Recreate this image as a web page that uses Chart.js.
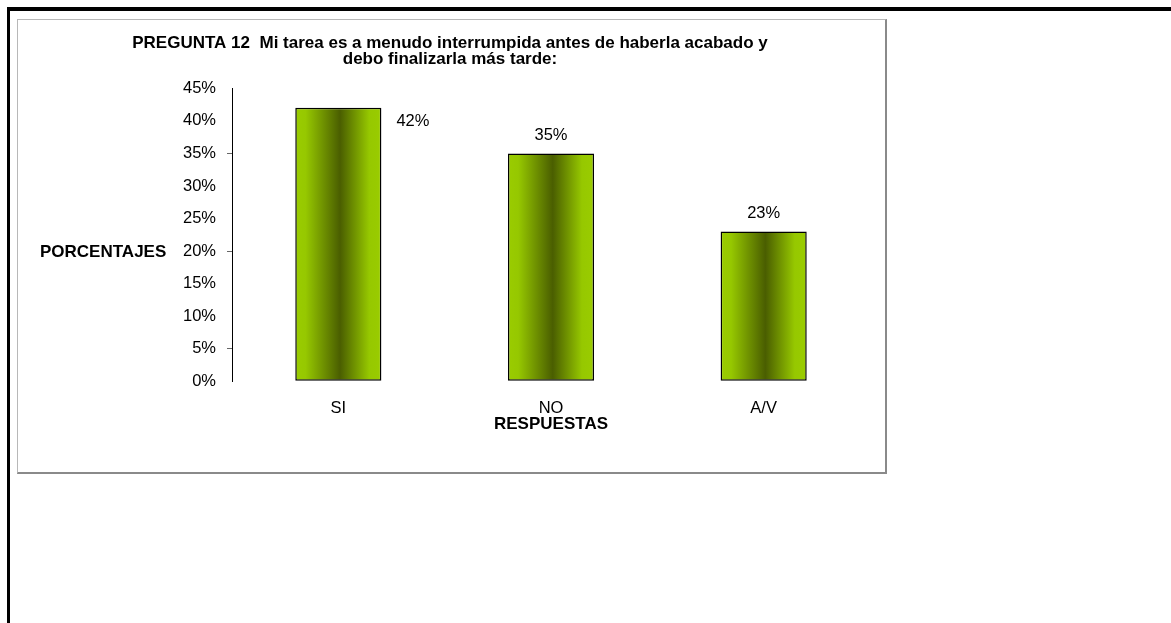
<!DOCTYPE html>
<html lang="es">
<head>
<meta charset="utf-8">
<title>Pregunta 12</title>
<script src="https://cdn.jsdelivr.net/npm/chart.js@4.4.1/dist/chart.umd.min.js"></script>
<style>
  html, body { margin: 0; padding: 0; background: #fff; }
  body { width: 1171px; height: 623px; position: relative; overflow: hidden; }
  .page { position: absolute; left: 7px; top: 7px; right: 0; bottom: 0; border-top: 4px solid #000; border-left: 3px solid #000; }
  .box { position: absolute; left: 17px; top: 19px; width: 867px; height: 452px; background: #fff;
         border-top: 1px solid #b8b8b8; border-left: 1px solid #b8b8b8; border-right: 2px solid #8a8a8a; border-bottom: 2px solid #8a8a8a; }
  .box canvas { position: absolute; left: 0; top: 0; }
</style>
</head>
<body>
<div class="page"></div>
<div class="box"><canvas id="chartPregunta12" width="867" height="452"></canvas></div>

<script>
'use strict';

// ====== DATA ======
const categories = ['SI', 'NO', 'A/V'];
const percentages = [42, 35, 23];
const yTicks = [0, 5, 10, 15, 20, 25, 30, 35, 40, 45];
const titleLines = ['PREGUNTA 12  Mi tarea es a menudo interrumpida antes de haberla acabado y', 'debo finalizarla más tarde:'];
const yAxisLabel = 'PORCENTAJES';
const xAxisLabel = 'RESPUESTAS';

const FONT = '"Liberation Sans", Arial, sans-serif';
const TEXT_SIZE = 16.5;
const BOLD_SIZE = 17;
const BAR_PCT = 0.405;

// ====== BAR FILL ======
// horizontal shading: bright green edges, dark olive core
function barGradient(ctx) {
    const chart = ctx.chart;
    const xScale = chart.scales.x;
    if (!xScale || !chart.chartArea) return '#8fbf00';
    const center = xScale.getPixelForValue(ctx.dataIndex);
    const half = (xScale.width / categories.length) * BAR_PCT / 2;
    const g = chart.ctx.createLinearGradient(center - half, 0, center + half, 0);
    g.addColorStop(0, '#9acc00');
    g.addColorStop(0.12, '#96c800');
    g.addColorStop(0.52, '#4a5e00');
    g.addColorStop(0.86, '#96c800');
    g.addColorStop(1, '#9acc00');
    return g;
}

// ====== LABELS PLUGIN ======
// value labels over the bars + horizontal y-axis caption
const labelPlugin = {
    id: 'labelPlugin',
    afterDatasetsDraw(chart) {
        const { ctx, chartArea } = chart;
        const meta = chart.getDatasetMeta(0);
        ctx.save();
        ctx.fillStyle = '#000';
        ctx.font = TEXT_SIZE + 'px ' + FONT;
        ctx.textBaseline = 'middle';
        meta.data.forEach((bar, i) => {
            const text = percentages[i] + '%';
            const half = bar.width / 2;
            if (bar.y - chartArea.top < 30) {
                // not enough room above: place at the right of the bar
                ctx.textAlign = 'left';
                ctx.fillText(text, bar.x + half + 15, bar.y + 14);
            } else {
                ctx.textAlign = 'center';
                ctx.fillText(text, bar.x, bar.y - 18);
            }
        });

        const yScale = chart.scales.y;
        ctx.font = 'bold ' + BOLD_SIZE + 'px ' + FONT;
        ctx.textAlign = 'left';
        ctx.fillText(yAxisLabel, 22, yScale.getPixelForValue(20) + 1);
        ctx.restore();
    }
};

// ====== CHART ======
new Chart(document.getElementById('chartPregunta12'), {
    type: 'bar',
    data: {
        labels: categories,
        datasets: [{
            data: percentages,
            backgroundColor: barGradient,
            borderColor: '#000',
            borderWidth: 1.5,
            borderSkipped: false,
            categoryPercentage: 1,
            barPercentage: BAR_PCT
        }]
    },
    options: {
        responsive: false,
        animation: false,
        layout: { padding: { left: 12, right: 15, top: 0, bottom: 40 } },
        plugins: {
            legend: { display: false },
            tooltip: { enabled: false },
            title: {
                display: true,
                text: titleLines,
                color: '#000',
                font: { family: FONT, size: BOLD_SIZE, weight: 'bold', lineHeight: 0.95 },
                padding: { top: 15, bottom: 21 }
            }
        },
        scales: {
            x: {
                grid: { display: false, drawTicks: false },
                border: { display: false },
                ticks: { color: '#000', font: { family: FONT, size: TEXT_SIZE, lineHeight: 1 }, padding: 19 },
                title: {
                    display: true,
                    text: xAxisLabel,
                    color: '#000',
                    font: { family: FONT, size: BOLD_SIZE, weight: 'bold', lineHeight: 0.95 },
                    padding: { top: -20, bottom: 0 }
                }
            },
            y: {
                min: 0,
                max: 45,
                afterBuildTicks(scale) { scale.ticks = yTicks.map(v => ({ value: v })); },
                afterFit(scale) { scale.width = 202; },
                ticks: {
                    color: '#000',
                    font: { family: FONT, size: TEXT_SIZE },
                    padding: 11,
                    callback: v => v + '%'
                },
                grid: {
                    drawOnChartArea: false,
                    drawTicks: true,
                    tickLength: 5,
                    color: c => (c.tick && c.tick.value % 15 === 5) ? '#666' : 'rgba(0,0,0,0)'
                },
                border: { display: true, color: '#000', width: 1 }
            }
        }
    },
    plugins: [labelPlugin]
});
</script>
</body>
</html>
